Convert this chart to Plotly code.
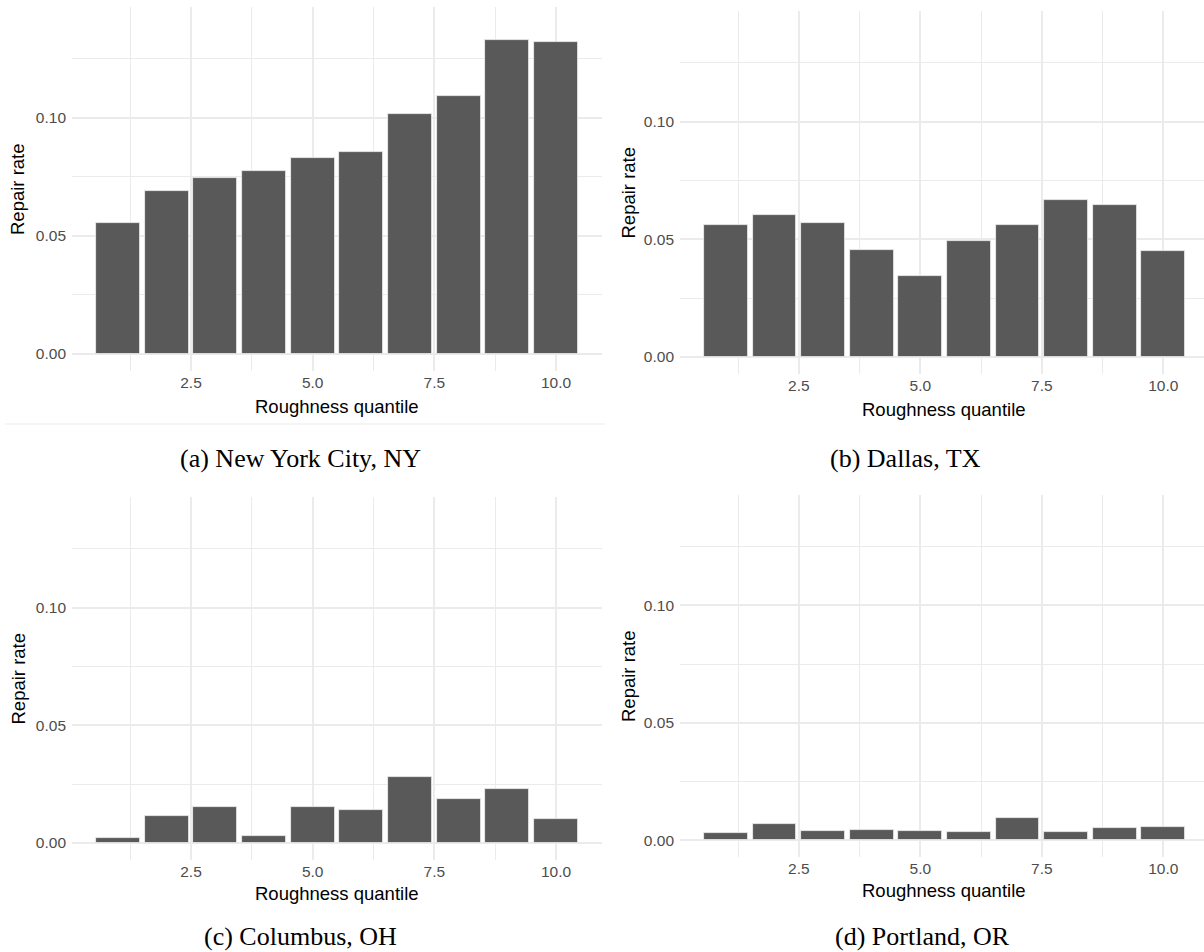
import plotly.graph_objects as go

# ---------------- data ----------------
quantiles = [1, 2, 3, 4, 5, 6, 7, 8, 9, 10]
nyc = [0.0554, 0.0691, 0.0747, 0.0775, 0.0832, 0.0857, 0.1017, 0.1095, 0.1329, 0.1323]
dallas = [0.0559, 0.0603, 0.0571, 0.0455, 0.0345, 0.0491, 0.0560, 0.0668, 0.0645, 0.0450]
columbus = [0.0021, 0.0113, 0.0153, 0.0031, 0.0154, 0.0140, 0.0282, 0.0188, 0.0228, 0.0103]
portland = [0.0031, 0.0070, 0.0040, 0.0041, 0.0038, 0.0035, 0.0094, 0.0034, 0.0050, 0.0055]

captions = ["(a) New York City, NY", "(b) Dallas, TX", "(c) Columbus, OH", "(d) Portland, OR"]
x_tickvals = [2.5, 5.0, 7.5, 10.0]
x_ticktext = ["2.5", "5.0", "7.5", "10.0"]
y_tickvals = [0.0, 0.05, 0.10]
y_ticktext = ["0.00", "0.05", "0.10"]
x_minor = [1.25, 3.75, 6.25, 8.75]
y_minor = [0.025, 0.075, 0.125]
x_title = "Roughness quantile"
y_title = "Repair rate"

# ---------------- layout geometry (pixels) ----------------
W, H = 1204, 952
# (left, right, top, bottom) of each panel's plot area
panels = [
    (72, 602, 7, 371),
    (680, 1204, 11, 374),
    (72, 602, 497, 860),
    (680, 1204, 495, 857),
]
px_per_unit = 48.6
x_ranges = [
    [0.055, 10.945],
    [0.055, 0.055 + (1204 - 680) / px_per_unit],
    [0.055, 10.945],
    [0.055, 0.055 + (1204 - 680) / px_per_unit],
]
y_range = [-0.0072, 0.147]
caption_pos = [(300, 458), (905, 458), (300, 936), (922, 936)]
xtitle_y = [406, 409, 893, 890]
xtitle_x = [337, 944, 337, 944]
ytitle_x = [18, 628, 18, 628]

datasets = [nyc, dallas, columbus, portland]

GRID = "#EBEBEB"
BAR = "#595959"
SANS = "Liberation Sans, Arial, sans-serif"

fig = go.Figure()
annotations = []

for i, (vals, (l, r, t, b)) in enumerate(zip(datasets, panels)):
    ax = "" if i == 0 else str(i + 1)
    fig.add_trace(go.Bar(
        x=quantiles, y=vals, width=0.9,
        marker=dict(color=BAR, line=dict(color="#F2F2F2", width=0.8)),
        xaxis="x" + ax, yaxis="y" + ax, showlegend=False,
        hoverinfo="x+y",
    ))
    xdom = [l / W, r / W]
    ydom = [1 - b / H, 1 - t / H]
    fig.update_layout(**{
        "xaxis" + ax: dict(
            domain=xdom, range=x_ranges[i], anchor="y" + ax,
            tickvals=x_tickvals, ticktext=x_ticktext,
            showgrid=True, gridcolor=GRID, gridwidth=1.5,
            zeroline=False, showline=False, ticks="",
            tickfont=dict(family=SANS, size=15.5, color="#4D4D4D"),
            minor=dict(tickvals=x_minor, showgrid=True, gridcolor=GRID, gridwidth=1.0),
            fixedrange=True,
        ),
        "yaxis" + ax: dict(
            domain=ydom, range=y_range, anchor="x" + ax,
            tickvals=y_tickvals, ticktext=y_ticktext,
            showgrid=True, gridcolor=GRID, gridwidth=1.5,
            zeroline=False, showline=False, ticks="",
            ticklabelstandoff=5,
            tickfont=dict(family=SANS, size=15.5, color="#4D4D4D"),
            minor=dict(tickvals=y_minor, showgrid=True, gridcolor=GRID, gridwidth=1.0),
            fixedrange=True,
        ),
    })
    # axis titles
    annotations.append(dict(
        text=x_title, x=xtitle_x[i] / W,
        y=1 - xtitle_y[i] / H, xref="paper", yref="paper",
        xanchor="center", yanchor="middle", showarrow=False,
        font=dict(family=SANS, size=18.5, color="#000000"),
    ))
    annotations.append(dict(
        text=y_title, x=ytitle_x[i] / W, y=1 - (t + b) / 2 / H,
        xref="paper", yref="paper", textangle=-90,
        xanchor="center", yanchor="middle", showarrow=False,
        font=dict(family=SANS, size=18.5, color="#000000"),
    ))
    cx, cy = caption_pos[i]
    annotations.append(dict(
        text=captions[i], x=cx / W, y=1 - cy / H,
        xref="paper", yref="paper",
        xanchor="center", yanchor="middle", showarrow=False,
        font=dict(family="Liberation Serif, Times New Roman, serif", size=26, color="#000000"),
    ))

fig.update_layout(
    width=W, height=H, autosize=False,
    margin=dict(l=0, r=0, t=0, b=0, pad=0),
    paper_bgcolor="white", plot_bgcolor="white",
    annotations=annotations,
    shapes=[dict(type="line", xref="paper", yref="paper",
                 x0=5 / W, x1=605 / W, y0=1 - 424 / H, y1=1 - 424 / H,
                 line=dict(color="#EBEBEB", width=1))],
    bargap=0,
)

fig.write_html("out.html", config={"displayModeBar": False},
               post_script="document.body.style.margin='0';document.body.style.overflow='hidden';")
